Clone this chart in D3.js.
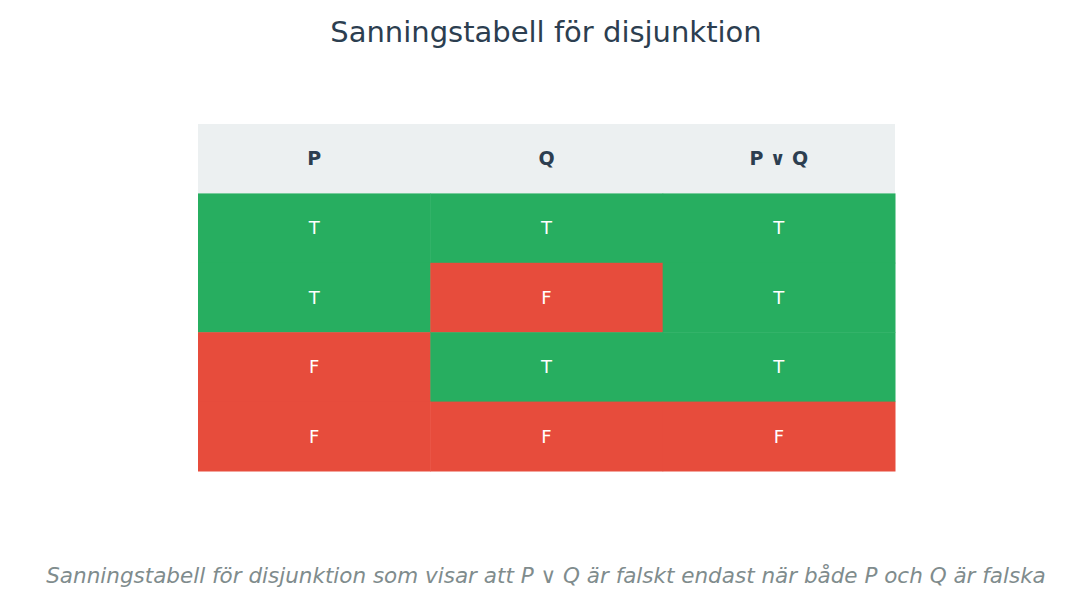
<!DOCTYPE html>
<html><head><meta charset="utf-8">
<script src="https://cdn.jsdelivr.net/npm/d3@7"></script>
<style>body{margin:0;background:#fff}</style>
</head><body><div id="chart"></div>
<script>
const columns = ['P', 'Q', 'P ∨ Q'];
const rows = [
  ['T', 'T', 'T'],
  ['T', 'F', 'T'],
  ['F', 'T', 'T'],
  ['F', 'F', 'F']
];
const title = 'Sanningstabell för disjunktion';
const caption = 'Sanningstabell för disjunktion som visar att P ∨ Q är falskt endast när både P och Q är falska';

const W = 1092, H = 607;
const tblLeft = 198, tblRight = 895, tblTop = 124, tblBottom = 471;
const font = 'DejaVu Sans, sans-serif';

const svg = d3.select('#chart').append('svg').attr('width', W).attr('height', H);

const x = d3.scaleBand().domain(d3.range(columns.length)).range([tblLeft, tblRight]);
const y = d3.scaleBand().domain(d3.range(rows.length + 1)).range([tblTop, tblBottom]);

svg.append('text').attr('x', W / 2).attr('y', 42).attr('text-anchor', 'middle')
  .attr('font-family', font).attr('font-size', 29).attr('fill', '#2c3e50').text(title);

// header
svg.append('rect').attr('x', tblLeft).attr('y', y(0)).attr('width', tblRight - tblLeft)
  .attr('height', y.bandwidth()).attr('fill', '#ecf0f1');
svg.selectAll('.hdr').data(columns).join('text')
  .attr('x', (d, i) => x(i) + x.bandwidth() / 2).attr('y', y(0) + y.bandwidth() / 2)
  .attr('dy', '0.35em').attr('text-anchor', 'middle').attr('font-family', font)
  .attr('font-weight', 'bold').attr('font-size', 19).attr('fill', '#2c3e50').text(d => d);

const cells = rows.flatMap((r, ri) => r.map((v, ci) => ({ v, ri, ci })));
svg.selectAll('.cell').data(cells).join('rect')
  .attr('x', d => x(d.ci)).attr('y', d => y(d.ri + 1))
  .attr('width', x.bandwidth() + 0.5).attr('height', y.bandwidth() + 0.5)
  .attr('fill', d => d.v === 'T' ? '#27ae60' : '#e74c3c');
svg.selectAll('.val').data(cells).join('text')
  .attr('x', d => x(d.ci) + x.bandwidth() / 2).attr('y', d => y(d.ri + 1) + y.bandwidth() / 2)
  .attr('dy', '0.35em').attr('text-anchor', 'middle').attr('font-family', font)
  .attr('font-size', 18).attr('fill', '#fff').text(d => d.v);

svg.append('text').attr('x', W / 2).attr('y', 583).attr('text-anchor', 'middle')
  .attr('font-family', font).attr('font-style', 'italic').attr('font-size', 21.5)
  .attr('fill', '#7f8c8d').text(caption);
</script></body></html>
